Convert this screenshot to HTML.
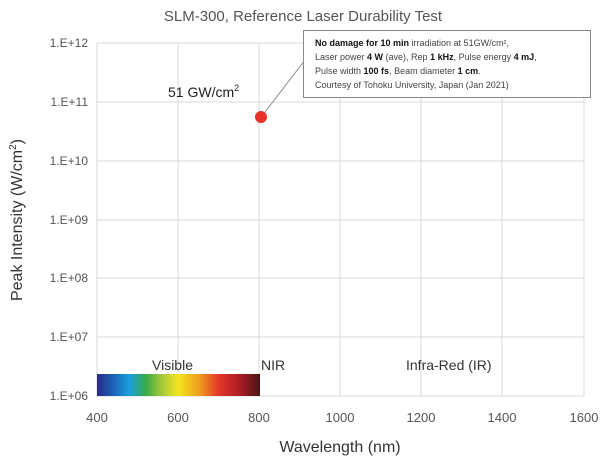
<!DOCTYPE html>
<html><head><style>
body{margin:0;background:#fff;}
svg text{font-family:"Liberation Sans",sans-serif;}
</style></head><body>
<svg width="606" height="464" viewBox="0 0 606 464" xmlns="http://www.w3.org/2000/svg">
<defs>
<linearGradient id="sp" x1="0" x2="1" y1="0" y2="0">
<stop offset="0" stop-color="#2b2a86"/>
<stop offset="0.1" stop-color="#1a62b8"/>
<stop offset="0.2" stop-color="#1aa0dc"/>
<stop offset="0.3" stop-color="#3aaa48"/>
<stop offset="0.4" stop-color="#a8c93a"/>
<stop offset="0.5" stop-color="#f2e41e"/>
<stop offset="0.62" stop-color="#f0a31e"/>
<stop offset="0.75" stop-color="#e3352a"/>
<stop offset="0.88" stop-color="#a81c24"/>
<stop offset="1" stop-color="#4a1414"/>
</linearGradient>
</defs>
<text x="303" y="21" text-anchor="middle" font-size="15" fill="#555">SLM-300, Reference Laser Durability Test</text>
<g stroke="#d9d9d9" stroke-width="1">
<line x1="97" y1="43" x2="584" y2="43"/><line x1="97" y1="102" x2="584" y2="102"/>
<line x1="97" y1="161" x2="584" y2="161"/><line x1="97" y1="220" x2="584" y2="220"/>
<line x1="97" y1="278" x2="584" y2="278"/><line x1="97" y1="337" x2="584" y2="337"/>
<line x1="97" y1="396" x2="584" y2="396"/>
<line x1="97" y1="43" x2="97" y2="396"/><line x1="178" y1="43" x2="178" y2="396"/>
<line x1="259" y1="43" x2="259" y2="396"/><line x1="340" y1="43" x2="340" y2="396"/>
<line x1="421" y1="43" x2="421" y2="396"/><line x1="502" y1="43" x2="502" y2="396"/>
<line x1="584" y1="43" x2="584" y2="396"/>
</g>
<g font-size="12" fill="#555" text-anchor="end">
<text x="88" y="47">1.E+12</text><text x="88" y="106">1.E+11</text>
<text x="88" y="165">1.E+10</text><text x="88" y="224">1.E+09</text>
<text x="88" y="282">1.E+08</text><text x="88" y="341">1.E+07</text>
<text x="88" y="400">1.E+06</text>
</g>
<g font-size="13" fill="#555" text-anchor="middle">
<text x="97" y="422">400</text><text x="178" y="422">600</text><text x="259" y="422">800</text>
<text x="340" y="422">1000</text><text x="421" y="422">1200</text><text x="502" y="422">1400</text>
<text x="584" y="422">1600</text>
</g>
<text x="340" y="452" text-anchor="middle" font-size="16" fill="#333">Wavelength (nm)</text>
<text transform="translate(22,220) rotate(-90)" text-anchor="middle" font-size="16" fill="#333">Peak Intensity (W/cm<tspan font-size="10" dy="-6">2</tspan><tspan dy="6">)</tspan></text>
<rect x="97" y="374" width="163" height="22" fill="url(#sp)"/>
<text x="152" y="370" font-size="14" fill="#333">Visible</text>
<text x="261" y="370" font-size="14" fill="#333">NIR</text>
<text x="406" y="370" font-size="14" fill="#333">Infra-Red (IR)</text>
<text x="168" y="97" font-size="14" fill="#222">51 GW/cm<tspan font-size="9" dy="-6">2</tspan></text>
<line x1="262" y1="116" x2="305" y2="60" stroke="#888" stroke-width="1"/>
<circle cx="261" cy="117" r="6" fill="#e8332c"/>
<rect x="303.5" y="30.5" width="287" height="67" fill="#fff" stroke="#888"/>
<g font-size="9" fill="#444">
<text x="315" y="46"><tspan font-weight="bold" fill="#111">No damage for 10 min</tspan> irradiation at 51GW/cm²,</text>
<text x="315" y="60">Laser power <tspan font-weight="bold" fill="#111">4 W</tspan> (ave), Rep <tspan font-weight="bold" fill="#111">1 kHz</tspan>, Pulse energy <tspan font-weight="bold" fill="#111">4 mJ</tspan>,</text>
<text x="315" y="74">Pulse width <tspan font-weight="bold" fill="#111">100 fs</tspan>, Beam diameter <tspan font-weight="bold" fill="#111">1 cm</tspan>.</text>
<text x="315" y="88">Courtesy of Tohoku University, Japan (Jan 2021)</text>
</g>
</svg>
</body></html>
